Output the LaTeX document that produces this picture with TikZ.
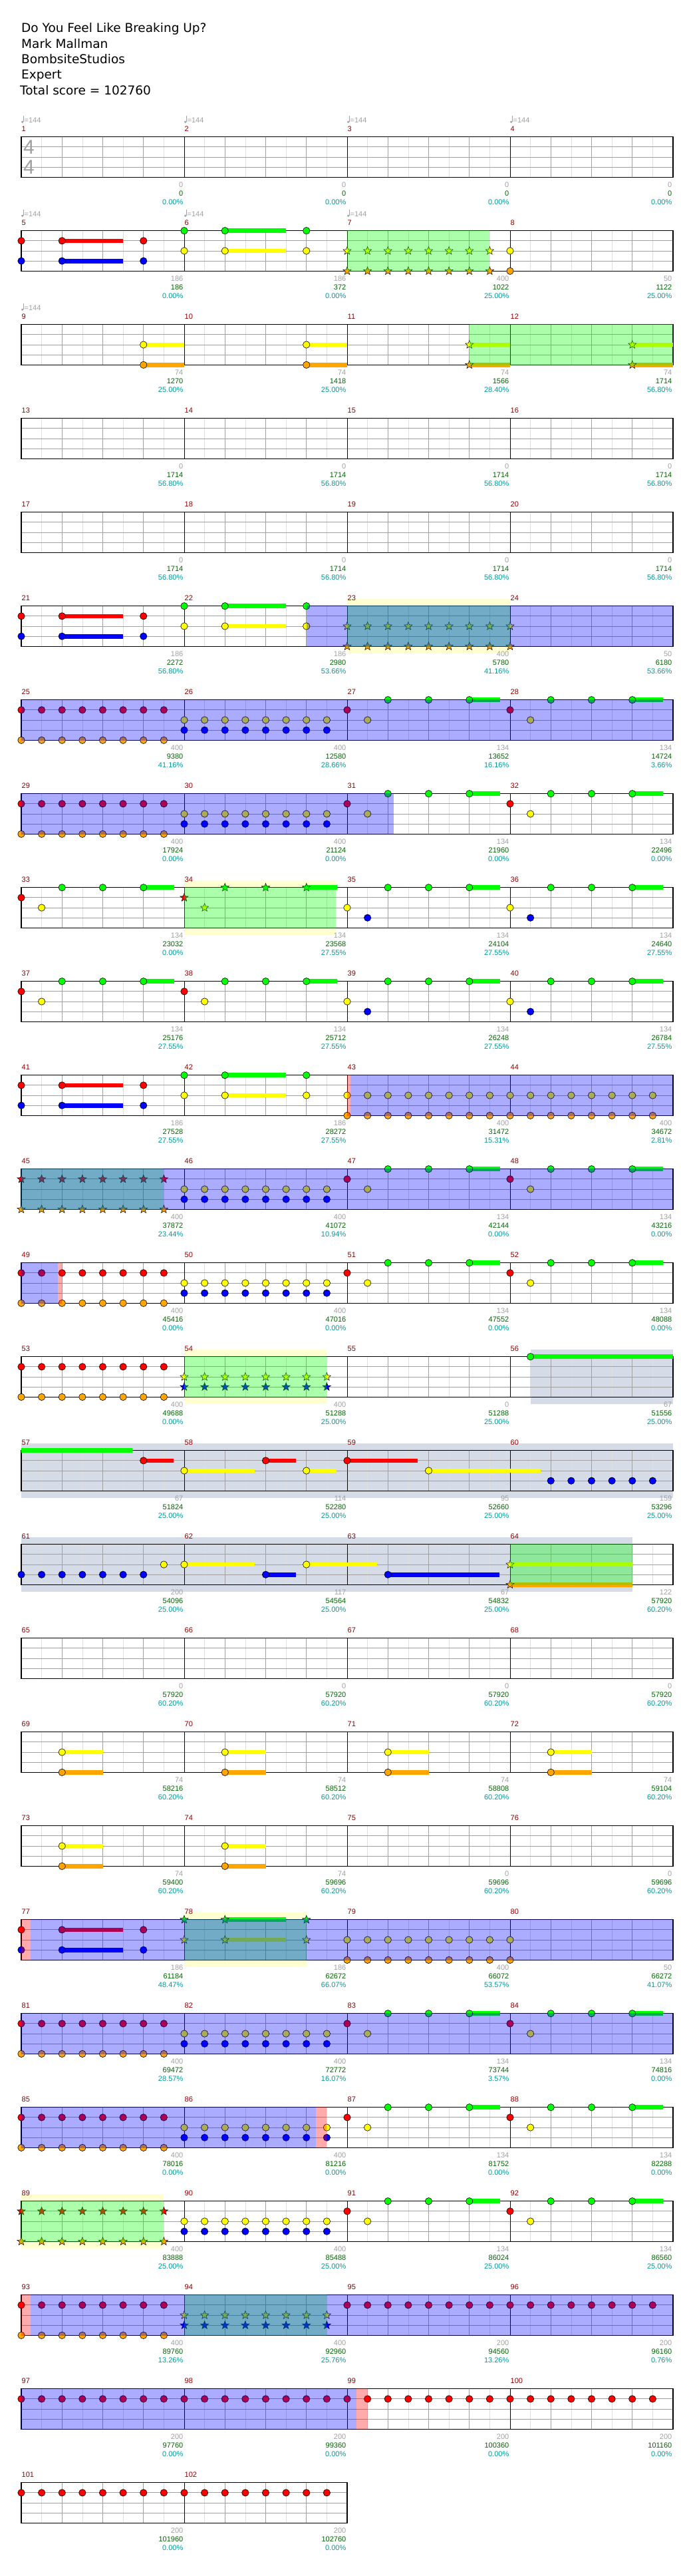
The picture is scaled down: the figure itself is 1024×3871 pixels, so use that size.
\documentclass[tikz,border=0pt]{standalone}
\usepackage{fontspec}
\setmainfont{Liberation Sans}
\newfontfamily\headfont{DejaVu Sans}

\definecolor{laneG}{RGB}{0,255,0}
\definecolor{laneR}{RGB}{255,0,0}
\definecolor{laneY}{RGB}{255,255,0}
\definecolor{laneB}{RGB}{0,0,255}
\definecolor{laneO}{RGB}{255,165,0}
\definecolor{measred}{RGB}{139,0,0}
\definecolor{scoregrey}{RGB}{160,160,160}
\definecolor{scoregreen}{RGB}{0,100,0}
\definecolor{scoreteal}{RGB}{0,153,153}
\definecolor{hlyellow}{RGB}{255,255,210}
\definecolor{solofill}{RGB}{213,220,232}
\definecolor{beatgrey}{RGB}{160,160,160}
\definecolor{eighthgrey}{RGB}{222,222,222}

% one note head, one star note, one sustain tail
\newcommand{\nt}[3]{\filldraw[note, fill=#1] (#2,#3) circle[radius=5.2pt];}
\newcommand{\st}[3]{\pic at (#2,#3) {starnote=#1};}
\newcommand{\tl}[4]{\draw[tail, #1] (#2,#4) -- (#3,#4);}
\newcommand{\run}[4]{\foreach \t in {#3,...,#4} {\nt{#1}{\t}{#2}}}
\newcommand{\srun}[4]{\foreach \t in {#3,...,#4} {\st{#1}{\t}{#2}}}

% staff
\newcommand{\staffpaper}[1]{\fill[white] (0,0) rectangle (#1,4);}
\newcommand{\staffgrid}[1]{%
  \foreach \t in {1,3,...,#1} {\draw[eighthgrey, line width=0.5pt] (\t,0) -- (\t,4);}
  \foreach \t in {2,4,...,#1} {\draw[beatgrey, line width=0.7pt] (\t,0) -- (\t,4);}
  \foreach \l in {1,2,3} {\draw[beatgrey, line width=0.9pt] (0,\l) -- (#1,\l);}
  \foreach \t in {8,16,...,#1} {\draw[black, line width=0.6pt] (\t,0) -- (\t,4);}
  \draw[black, line width=1.3pt] (0,0) rectangle (#1,4);}
\newcommand{\staff}[1]{\staffpaper{#1}\staffgrid{#1}}

% zones
\newcommand{\hlzone}[2]{\fill[hlyellow] (#1,-0.68) rectangle (#2,4.68);}
\newcommand{\solozone}[2]{\fill[solofill] (#1,-0.68) rectangle (#2,4.68);}
\newcommand{\spzone}[2]{\fill[laneG, fill opacity=0.33] (#1,-0.05) rectangle (#2,4.05);}
\newcommand{\odzone}[2]{\fill[laneB, fill opacity=0.33] (#1,-0.05) rectangle (#2,4.05);}
\newcommand{\pkzone}[2]{\fill[laneR, fill opacity=0.33] (#1,-0.05) rectangle (#2,4.05);}

% recurring figures
\newcommand{\openA}{\tl{laneR}{2}{5}{1} \tl{laneB}{2}{5}{3}
  \foreach \t in {0,2,6} {\nt{laneR}{\t}{1} \nt{laneB}{\t}{3}}}
\newcommand{\openB}{\tl{laneG}{10}{13}{0} \tl{laneY}{10}{13}{2}
  \foreach \t in {8,10,14} {\nt{laneG}{\t}{0} \nt{laneY}{\t}{2}}}
\newcommand{\drive}{\run{laneR}{1}{0}{7} \run{laneO}{4}{0}{7}
  \run{laneY}{2}{8}{15} \run{laneB}{3}{8}{15}}
\newcommand{\riff}[5]{\tl{laneG}{#1+6}{#1+7.5}{0}
  \nt{#2}{#1}{#3} \nt{#4}{#1+1}{#5}
  \foreach \d in {2,4,6} {\nt{laneG}{#1+\d}{0}}}

% labels
\newcommand{\tempo}[2]{%
  \fill[scoregrey] ([xshift=1.6pt, yshift=22.5pt]8*#1,0) circle[radius=1.8pt];
  \draw[scoregrey, line width=0.6pt] ([xshift=3.2pt, yshift=22.5pt]8*#1,0) -- ([xshift=3.2pt, yshift=31.5pt]8*#1,0);
  \node[tempotext] (tempo#2) at ([xshift=4.5pt, yshift=21pt]8*#1,0) {=144};}
\newcommand{\meas}[5]{%
  \node[mnum] (m#2) at ([xshift=0.5pt, yshift=8pt]8*#1,0) {#2};
  \node[sgrey] (g#2) at ([xshift=-1.5pt, yshift=-76pt]8*#1+8,0) {#3};
  \node[sgreen] (c#2) at ([xshift=-1.5pt, yshift=-89pt]8*#1+8,0) {#4};
  \node[steal] (p#2) at ([xshift=-1.5pt, yshift=-102pt]8*#1+8,0) {#5\%};}

\begin{document}
\begin{tikzpicture}[
  x=1pt, y=1pt,
  rowat/.style={shift={(32pt,-205.7pt)}, yshift={-141pt*(#1)}, x=30.625pt, y=-15.15pt},
  note/.style={draw=black, line width=0.6pt},
  tail/.style={line width=6.7pt},
  headline/.style={anchor=base west, inner sep=0pt, font=\headfont\fontsize{18.5}{20}\selectfont},
  mnum/.style={anchor=base west, inner sep=0pt, text=measred, font=\fontsize{11}{13}\selectfont},
  tempotext/.style={anchor=base west, inner sep=0pt, text=scoregrey, font=\fontsize{11}{13}\selectfont},
  sgrey/.style={anchor=base east, inner sep=0pt, text=scoregrey, font=\fontsize{11}{13}\selectfont},
  sgreen/.style={anchor=base east, inner sep=0pt, text=scoregreen, font=\fontsize{11}{13}\selectfont},
  steal/.style={anchor=base east, inner sep=0pt, text=scoreteal, font=\fontsize{11}{13}\selectfont},
  timesig/.style={anchor=base west, inner sep=0pt, text=scoregrey, font=\fontsize{30}{30}\selectfont},
  pics/starnote/.style={code={\filldraw[note, line width=0.5pt, fill=#1] (90:6.4pt) -- (126:2.7pt) -- (162:6.4pt) -- (198:2.7pt) -- (234:6.4pt) -- (270:2.7pt) -- (306:6.4pt) -- (342:2.7pt) -- (18:6.4pt) -- (54:2.7pt) -- cycle;}},
]
\useasboundingbox (0,0) rectangle (1024,-3871);

% header
\node[headline] (song)    at (32,-48.7)  {Do You Feel Like Breaking Up?};
\node[headline] (artist)  at (32,-72)    {Mark Mallman};
\node[headline] (charter) at (32,-95.3)  {BombsiteStudios};
\node[headline] (level)   at (32,-118.7) {Expert};
\node[headline] (total)   at (30,-142)   {Total score = 102760};

% measures 1-4
\begin{scope}[rowat=0]
  \staff{32}
  \node[timesig] (tsup) at ([xshift=3pt, yshift=-26pt]0,0) {4};
  \node[timesig] (tslo) at ([xshift=3pt, yshift=-56pt]0,0) {4};
  \foreach \i/\n in {0/1,1/2,2/3,3/4} {\tempo{\i}{\n}}
  \foreach \i/\n/\g/\c/\p in {0/1/0/0/0.00, 1/2/0/0/0.00, 2/3/0/0/0.00, 3/4/0/0/0.00} {\meas{\i}{\n}{\g}{\c}{\p}}
\end{scope}

% measures 5-8
\begin{scope}[rowat=1]
  \staff{32}
  \foreach \i/\n in {0/5,1/6,2/7} {\tempo{\i}{\n}}
  \openA \openB
  \srun{laneY}{2}{16}{23} \srun{laneO}{4}{16}{23}
  \nt{laneY}{24}{2} \nt{laneO}{24}{4}
  \spzone{16}{23}
  \foreach \i/\n/\g/\c/\p in {0/5/186/186/0.00, 1/6/186/372/0.00, 2/7/400/1022/25.00, 3/8/50/1122/25.00} {\meas{\i}{\n}{\g}{\c}{\p}}
\end{scope}

% measures 9-12
\begin{scope}[rowat=2]
  \staff{32}
  \tempo{0}{9}
  \foreach \s/\e in {6/8,14/16,22/24,30/32} {\tl{laneY}{\s}{\e}{2} \tl{laneO}{\s}{\e}{4}}
  \foreach \t in {6,14} {\nt{laneY}{\t}{2} \nt{laneO}{\t}{4}}
  \foreach \t in {22,30} {\st{laneY}{\t}{2} \st{laneO}{\t}{4}}
  \spzone{22}{32}
  \foreach \i/\n/\g/\c/\p in {0/9/74/1270/25.00, 1/10/74/1418/25.00, 2/11/74/1566/28.40, 3/12/74/1714/56.80} {\meas{\i}{\n}{\g}{\c}{\p}}
\end{scope}

% measures 13-16
\begin{scope}[rowat=3]
  \staff{32}
  \foreach \i/\n/\g/\c/\p in {0/13/0/1714/56.80, 1/14/0/1714/56.80, 2/15/0/1714/56.80, 3/16/0/1714/56.80} {\meas{\i}{\n}{\g}{\c}{\p}}
\end{scope}

% measures 17-20
\begin{scope}[rowat=4]
  \staff{32}
  \foreach \i/\n/\g/\c/\p in {0/17/0/1714/56.80, 1/18/0/1714/56.80, 2/19/0/1714/56.80, 3/20/0/1714/56.80} {\meas{\i}{\n}{\g}{\c}{\p}}
\end{scope}

% measures 21-24
\begin{scope}[rowat=5]
  \hlzone{16}{24}
  \staff{32}
  \openA \openB
  \srun{laneY}{2}{16}{24} \srun{laneO}{4}{16}{24}
  \spzone{16}{24}
  \odzone{14}{32}
  \foreach \i/\n/\g/\c/\p in {0/21/186/2272/56.80, 1/22/186/2980/53.66, 2/23/400/5780/41.16, 3/24/50/6180/53.66} {\meas{\i}{\n}{\g}{\c}{\p}}
\end{scope}

% measures 25-28
\begin{scope}[rowat=6]
  \staff{32}
  \drive
  \riff{16}{laneR}{1}{laneY}{2} \riff{24}{laneR}{1}{laneY}{2}
  \odzone{0}{32}
  \foreach \i/\n/\g/\c/\p in {0/25/400/9380/41.16, 1/26/400/12580/28.66, 2/27/134/13652/16.16, 3/28/134/14724/3.66} {\meas{\i}{\n}{\g}{\c}{\p}}
\end{scope}

% measures 29-32
\begin{scope}[rowat=7]
  \staff{32}
  \drive
  \riff{16}{laneR}{1}{laneY}{2} \riff{24}{laneR}{1}{laneY}{2}
  \odzone{0}{18.3}
  \foreach \i/\n/\g/\c/\p in {0/29/400/17924/0.00, 1/30/400/21124/0.00, 2/31/134/21960/0.00, 3/32/134/22496/0.00} {\meas{\i}{\n}{\g}{\c}{\p}}
\end{scope}

% measures 33-36
\begin{scope}[rowat=8]
  \hlzone{8}{15.45}
  \staff{32}
  \riff{0}{laneR}{1}{laneY}{2}
  \tl{laneG}{14}{15.5}{0}
  \st{laneR}{8}{1} \st{laneY}{9}{2}
  \foreach \t in {10,12,14} {\st{laneG}{\t}{0}}
  \riff{16}{laneY}{2}{laneB}{3} \riff{24}{laneY}{2}{laneB}{3}
  \spzone{8}{15.45}
  \foreach \i/\n/\g/\c/\p in {0/33/134/23032/0.00, 1/34/134/23568/27.55, 2/35/134/24104/27.55, 3/36/134/24640/27.55} {\meas{\i}{\n}{\g}{\c}{\p}}
\end{scope}

% measures 37-40
\begin{scope}[rowat=9]
  \staff{32}
  \riff{0}{laneR}{1}{laneY}{2} \riff{8}{laneR}{1}{laneY}{2}
  \riff{16}{laneY}{2}{laneB}{3} \riff{24}{laneY}{2}{laneB}{3}
  \foreach \i/\n/\g/\c/\p in {0/37/134/25176/27.55, 1/38/134/25712/27.55, 2/39/134/26248/27.55, 3/40/134/26784/27.55} {\meas{\i}{\n}{\g}{\c}{\p}}
\end{scope}

% measures 41-44
\begin{scope}[rowat=10]
  \staff{32}
  \openA \openB
  \run{laneY}{2}{16}{31} \run{laneO}{4}{16}{31}
  \pkzone{16}{16.15}
  \odzone{16.15}{32}
  \foreach \i/\n/\g/\c/\p in {0/41/186/27528/27.55, 1/42/186/28272/27.55, 2/43/400/31472/15.31, 3/44/400/34672/2.81} {\meas{\i}{\n}{\g}{\c}{\p}}
\end{scope}

% measures 45-48
\begin{scope}[rowat=11]
  \staff{32}
  \srun{laneR}{1}{0}{7} \srun{laneO}{4}{0}{7}
  \run{laneY}{2}{8}{15} \run{laneB}{3}{8}{15}
  \riff{16}{laneR}{1}{laneY}{2} \riff{24}{laneR}{1}{laneY}{2}
  \spzone{0}{7}
  \odzone{0}{32}
  \foreach \i/\n/\g/\c/\p in {0/45/400/37872/23.44, 1/46/400/41072/10.94, 2/47/134/42144/0.00, 3/48/134/43216/0.00} {\meas{\i}{\n}{\g}{\c}{\p}}
\end{scope}

% measures 49-52
\begin{scope}[rowat=12]
  \staff{32}
  \drive
  \riff{16}{laneR}{1}{laneY}{2} \riff{24}{laneR}{1}{laneY}{2}
  \odzone{0}{1.78}
  \pkzone{1.78}{2}
  \foreach \i/\n/\g/\c/\p in {0/49/400/45416/0.00, 1/50/400/47016/0.00, 2/51/134/47552/0.00, 3/52/134/48088/0.00} {\meas{\i}{\n}{\g}{\c}{\p}}
\end{scope}

% measures 53-56
\begin{scope}[rowat=13]
  \hlzone{8}{15}
  \staffpaper{32}
  \solozone{25}{32}
  \staffgrid{32}
  \run{laneR}{1}{0}{7} \run{laneO}{4}{0}{7}
  \srun{laneY}{2}{8}{15} \srun{laneB}{3}{8}{15}
  \tl{laneG}{25}{32}{0} \nt{laneG}{25}{0}
  \spzone{8}{15}
  \foreach \i/\n/\g/\c/\p in {0/53/400/49688/0.00, 1/54/400/51288/25.00, 2/55/0/51288/25.00, 3/56/67/51556/25.00} {\meas{\i}{\n}{\g}{\c}{\p}}
\end{scope}

% measures 57-60
\begin{scope}[rowat=14]
  \staffpaper{32}
  \solozone{0}{32}
  \staffgrid{32}
  \tl{laneG}{0}{5.46}{0}
  \foreach \s/\e/\c/\l in {6/7.47/laneR/1, 8/11.47/laneY/2, 12/13.47/laneR/1, 14/15.48/laneY/2, 16/19.46/laneR/1, 20/25.49/laneY/2}
    {\tl{\c}{\s}{\e}{\l} \nt{\c}{\s}{\l}}
  \run{laneB}{3}{26}{31}
  \foreach \i/\n/\g/\c/\p in {0/57/67/51824/25.00, 1/58/114/52280/25.00, 2/59/95/52660/25.00, 3/60/159/53296/25.00} {\meas{\i}{\n}{\g}{\c}{\p}}
\end{scope}

% measures 61-64
\begin{scope}[rowat=15]
  \staffpaper{32}
  \solozone{0}{30}
  \staffgrid{32}
  \run{laneB}{3}{0}{6}
  \nt{laneY}{7}{2}
  \foreach \s/\e/\c/\l in {8/11.47/laneY/2, 12/13.47/laneB/3, 14/17.48/laneY/2, 18/23.49/laneB/3}
    {\tl{\c}{\s}{\e}{\l} \nt{\c}{\s}{\l}}
  \tl{laneY}{24}{30}{2} \tl{laneO}{24}{30}{4}
  \st{laneY}{24}{2} \st{laneO}{24}{4}
  \spzone{24}{30}
  \foreach \i/\n/\g/\c/\p in {0/61/200/54096/25.00, 1/62/117/54564/25.00, 2/63/67/54832/25.00, 3/64/122/57920/60.20} {\meas{\i}{\n}{\g}{\c}{\p}}
\end{scope}

% measures 65-68
\begin{scope}[rowat=16]
  \staff{32}
  \foreach \i/\n/\g/\c/\p in {0/65/0/57920/60.20, 1/66/0/57920/60.20, 2/67/0/57920/60.20, 3/68/0/57920/60.20} {\meas{\i}{\n}{\g}{\c}{\p}}
\end{scope}

% measures 69-72
\begin{scope}[rowat=17]
  \staff{32}
  \foreach \t in {2,10,18,26} {\tl{laneY}{\t}{\t+2}{2} \tl{laneO}{\t}{\t+2}{4} \nt{laneY}{\t}{2} \nt{laneO}{\t}{4}}
  \foreach \i/\n/\g/\c/\p in {0/69/74/58216/60.20, 1/70/74/58512/60.20, 2/71/74/58808/60.20, 3/72/74/59104/60.20} {\meas{\i}{\n}{\g}{\c}{\p}}
\end{scope}

% measures 73-76
\begin{scope}[rowat=18]
  \staff{32}
  \foreach \t in {2,10} {\tl{laneY}{\t}{\t+2}{2} \tl{laneO}{\t}{\t+2}{4} \nt{laneY}{\t}{2} \nt{laneO}{\t}{4}}
  \foreach \i/\n/\g/\c/\p in {0/73/74/59400/60.20, 1/74/74/59696/60.20, 2/75/0/59696/60.20, 3/76/0/59696/60.20} {\meas{\i}{\n}{\g}{\c}{\p}}
\end{scope}

% measures 77-80
\begin{scope}[rowat=19]
  \hlzone{8}{14}
  \staff{32}
  \openA
  \tl{laneG}{10}{13}{0} \tl{laneY}{10}{13}{2}
  \foreach \t in {8,10,14} {\st{laneG}{\t}{0} \st{laneY}{\t}{2}}
  \run{laneY}{2}{16}{24} \run{laneO}{4}{16}{24}
  \spzone{8}{14}
  \pkzone{0}{0.46}
  \odzone{0.46}{32}
  \foreach \i/\n/\g/\c/\p in {0/77/186/61184/48.47, 1/78/186/62672/66.07, 2/79/400/66072/53.57, 3/80/50/66272/41.07} {\meas{\i}{\n}{\g}{\c}{\p}}
\end{scope}

% measures 81-84
\begin{scope}[rowat=20]
  \staff{32}
  \drive
  \riff{16}{laneR}{1}{laneY}{2} \riff{24}{laneR}{1}{laneY}{2}
  \odzone{0}{32}
  \foreach \i/\n/\g/\c/\p in {0/81/400/69472/28.57, 1/82/400/72772/16.07, 2/83/134/73744/3.57, 3/84/134/74816/0.00} {\meas{\i}{\n}{\g}{\c}{\p}}
\end{scope}

% measures 85-88
\begin{scope}[rowat=21]
  \staff{32}
  \drive
  \riff{16}{laneR}{1}{laneY}{2} \riff{24}{laneR}{1}{laneY}{2}
  \odzone{0}{14.45}
  \pkzone{14.45}{15}
  \foreach \i/\n/\g/\c/\p in {0/85/400/78016/0.00, 1/86/400/81216/0.00, 2/87/134/81752/0.00, 3/88/134/82288/0.00} {\meas{\i}{\n}{\g}{\c}{\p}}
\end{scope}

% measures 89-92
\begin{scope}[rowat=22]
  \hlzone{0}{7}
  \staff{32}
  \srun{laneR}{1}{0}{7} \srun{laneO}{4}{0}{7}
  \run{laneY}{2}{8}{15} \run{laneB}{3}{8}{15}
  \riff{16}{laneR}{1}{laneY}{2} \riff{24}{laneR}{1}{laneY}{2}
  \spzone{0}{7}
  \foreach \i/\n/\g/\c/\p in {0/89/400/83888/25.00, 1/90/400/85488/25.00, 2/91/134/86024/25.00, 3/92/134/86560/25.00} {\meas{\i}{\n}{\g}{\c}{\p}}
\end{scope}

% measures 93-96
\begin{scope}[rowat=23]
  \staff{32}
  \run{laneR}{1}{0}{7} \run{laneO}{4}{0}{7}
  \srun{laneY}{2}{8}{15} \srun{laneB}{3}{8}{15}
  \run{laneR}{1}{16}{31}
  \spzone{8}{15}
  \pkzone{0}{0.46}
  \odzone{0.46}{32}
  \foreach \i/\n/\g/\c/\p in {0/93/400/89760/13.26, 1/94/400/92960/25.76, 2/95/200/94560/13.26, 3/96/200/96160/0.76} {\meas{\i}{\n}{\g}{\c}{\p}}
\end{scope}

% measures 97-100
\begin{scope}[rowat=24]
  \staff{32}
  \run{laneR}{1}{0}{31}
  \odzone{0}{16.46}
  \pkzone{16.46}{17}
  \foreach \i/\n/\g/\c/\p in {0/97/200/97760/0.00, 1/98/200/99360/0.00, 2/99/200/100360/0.00, 3/100/200/101160/0.00} {\meas{\i}{\n}{\g}{\c}{\p}}
\end{scope}

% measures 101-102
\begin{scope}[rowat=25]
  \staff{16}
  \run{laneR}{1}{0}{15}
  \foreach \i/\n/\g/\c/\p in {0/101/200/101960/0.00, 1/102/200/102760/0.00} {\meas{\i}{\n}{\g}{\c}{\p}}
\end{scope}

\end{tikzpicture}
\end{document}
